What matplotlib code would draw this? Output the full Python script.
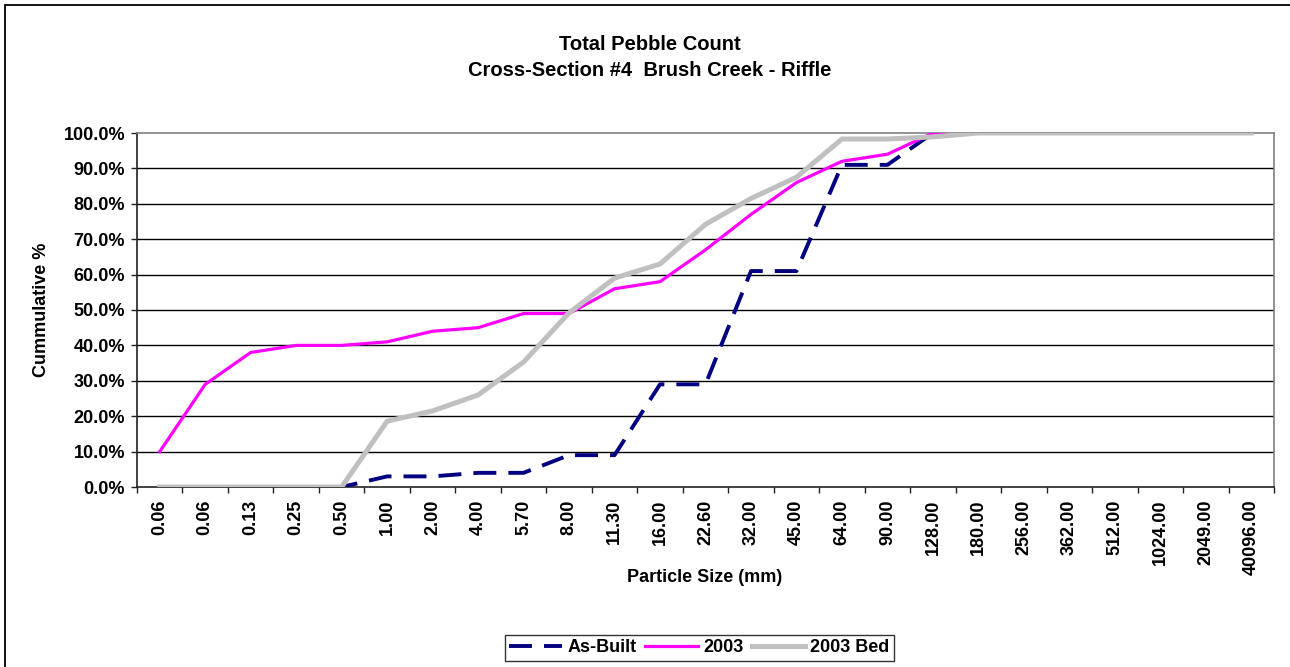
import matplotlib
matplotlib.use("Agg")
import matplotlib.pyplot as plt
from matplotlib.patches import Rectangle
from matplotlib.ticker import FixedLocator, FuncFormatter

# Particle size classes (mm), shown as categories along the x axis
sizes = ["0.06", "0.06", "0.13", "0.25", "0.50", "1.00", "2.00", "4.00", "5.70",
         "8.00", "11.30", "16.00", "22.60", "32.00", "45.00", "64.00", "90.00",
         "128.00", "180.00", "256.00", "362.00", "512.00", "1024.00", "2049.00",
         "40096.00"]

# Cumulative percent finer for each survey
as_built = [0, 0, 0, 0, 0, 3, 3, 4, 4, 9, 9, 29, 29, 61, 61, 91, 91, 100,
            100, 100, 100, 100, 100, 100, 100]
y2003 = [10, 29, 38, 40, 40, 41, 44, 45, 49, 49, 56, 58, 67, 77, 86, 92, 94,
         100, 100, 100, 100, 100, 100, 100, 100]
y2003_bed = [0, 0, 0, 0, 0, 18.6, 21.5, 26, 35.3, 49.2, 59, 63, 74.2, 81.5,
             87.5, 98.3, 98.3, 98.9, 100, 100, 100, 100, 100, 100, 100]

series_names = ["As-Built", "2003", "2003 Bed"]

plt.rcParams["font.family"] = ["Liberation Sans", "DejaVu Sans"]
plt.rcParams["font.weight"] = "bold"

W, H = 1290, 667
fig = plt.figure(figsize=(W / 100, H / 100), dpi=100)
fig.patch.set_facecolor("white")

# Outer chart border
fig.add_artist(Rectangle((5 / W, -0.05), 1.2, 1 - 5 / H + 0.05,
                         transform=fig.transFigure, fill=False,
                         edgecolor="black", linewidth=1.3))

left, right, top, bottom = 137, 1274, 133, 487
ax = fig.add_axes([left / W, 1 - bottom / H, (right - left) / W, (bottom - top) / H])

x = list(range(len(sizes)))
ax.plot(x, as_built, color="#000080", linewidth=2.8, dashes=(5.9, 3.1),
        dash_capstyle="butt", label=series_names[0], zorder=3)
ax.plot(x, y2003, color="#FF00FF", linewidth=2.3, label=series_names[1], zorder=4)
ax.plot(x, y2003_bed, color="#C0C0C0", linewidth=3.6, label=series_names[2],
        zorder=5, solid_joinstyle="miter")

ax.set_xlim(-0.5, len(sizes) - 0.5)
ax.set_ylim(0, 100)

# Horizontal gridlines
for g in range(10, 100, 10):
    ax.axhline(g, color="black", linewidth=1.0, zorder=1)

# Axis frame
ax.spines["left"].set_color("#222222")
ax.spines["bottom"].set_color("#222222")
ax.spines["top"].set_color("#808080")
ax.spines["right"].set_color("#808080")
for s in ax.spines.values():
    s.set_linewidth(1.2)

# Y axis
ax.set_yticks(range(0, 101, 10))
ax.yaxis.set_major_formatter(FuncFormatter(lambda v, p: f"{v:.1f}%"))
ax.tick_params(axis="y", direction="out", length=4.5, width=1.0, color="#222222",
               labelsize=13, pad=4)

# X axis: labels at category centres, tick marks at category boundaries
ax.set_xticks(x)
ax.set_xticklabels(sizes, rotation=90, fontsize=13, fontweight="bold")
ax.tick_params(axis="x", which="major", length=0, pad=9)
ax.xaxis.set_minor_locator(FixedLocator([i - 0.5 for i in range(len(sizes) + 1)]))
ax.tick_params(axis="x", which="minor", direction="out", length=4.5, width=1.0,
               color="#222222")
for lbl in ax.get_yticklabels():
    lbl.set_fontweight("bold")

fig.text(650 / W, 1 - 44 / H, "Total Pebble Count", ha="center", va="center",
         fontsize=14.5, fontweight="bold")
fig.text(650 / W, 1 - 70 / H, "Cross-Section #4  Brush Creek - Riffle",
         ha="center", va="center", fontsize=14.5, fontweight="bold")
fig.text(41 / W, 1 - 310 / H, "Cummulative %", ha="center", va="center",
         rotation=90, fontsize=13, fontweight="bold")
fig.text(705 / W, 1 - 577 / H, "Particle Size (mm)", ha="center", va="center",
         fontsize=13, fontweight="bold")

leg = fig.legend(loc="center", bbox_to_anchor=(699.5 / W, 1 - 648 / H), ncol=3,
                 frameon=True, fancybox=False, edgecolor="black", fontsize=13,
                 handlelength=2.9, handletextpad=0.3, columnspacing=0.5,
                 borderpad=0.25, borderaxespad=0)
leg.get_frame().set_linewidth(1.0)
for t in leg.get_texts():
    t.set_fontweight("bold")

fig.savefig("out.png", dpi=100, facecolor="white")
